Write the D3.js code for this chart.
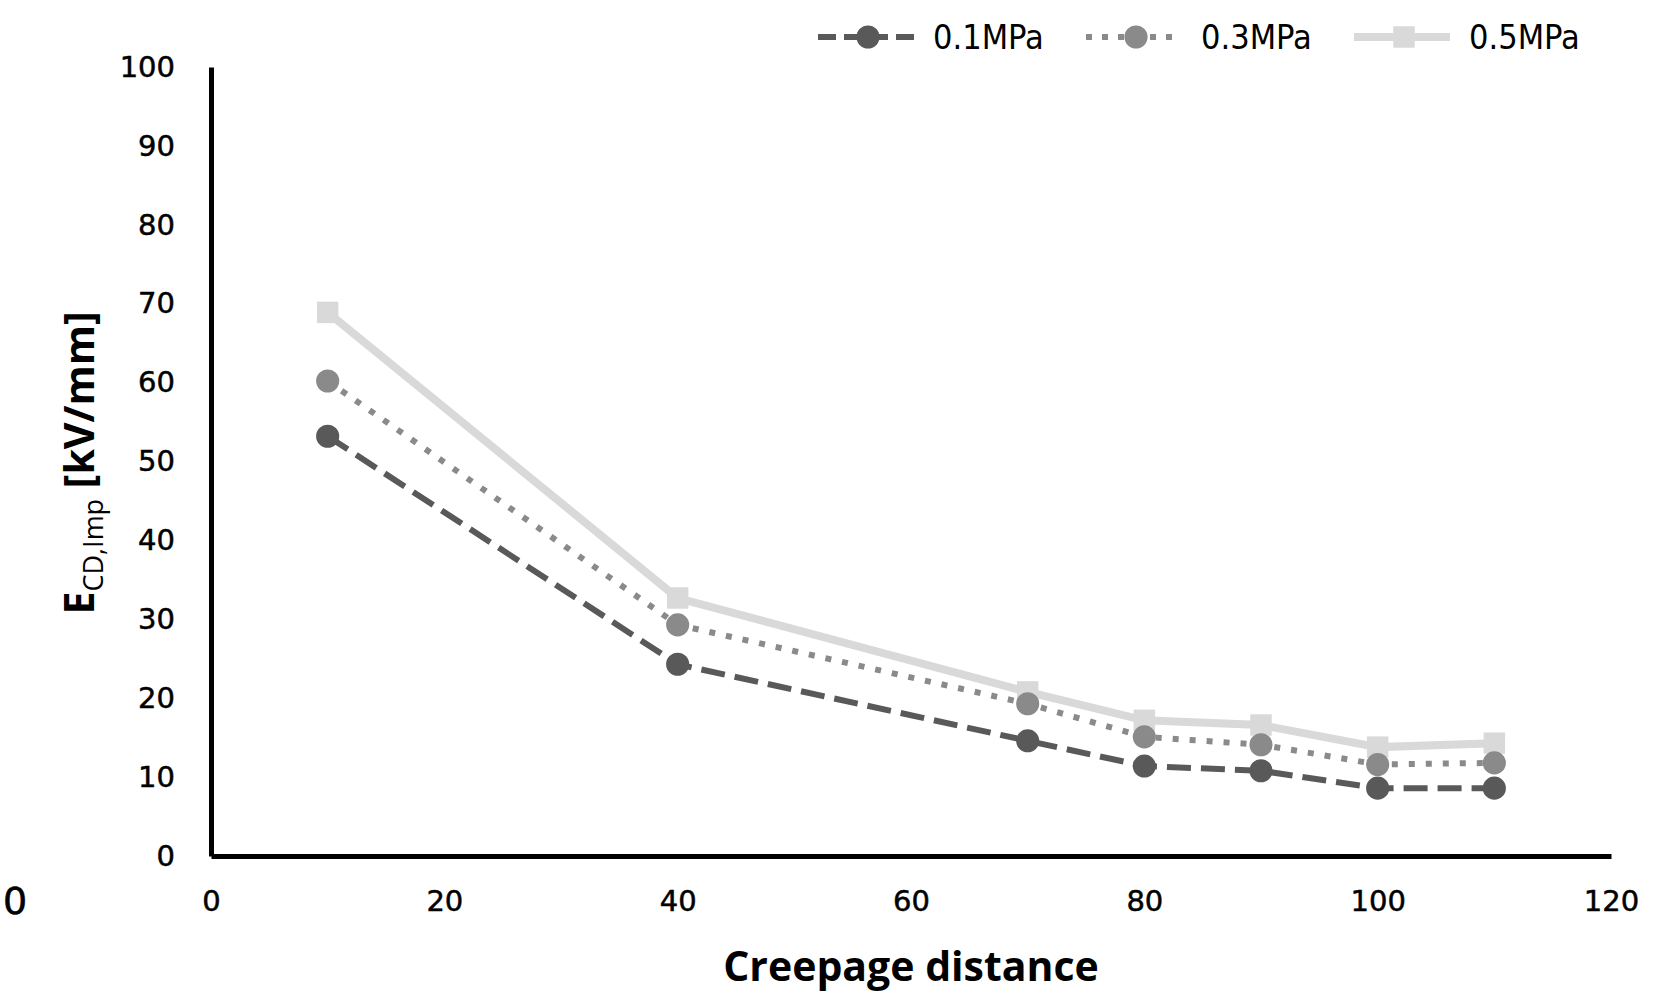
<!DOCTYPE html>
<html>
<head>
<meta charset="utf-8">
<script src="https://cdn.jsdelivr.net/npm/d3@7"></script>
<style>
  body { margin: 0; background: #fff; }
  svg { display: block; }
</style>
</head>
<body>
<div id="chart"></div>
<script>
// data
var distances = [10, 40, 70, 80, 90, 100, 110];
var seriesNames = ["0.1MPa", "0.3MPa", "0.5MPa"];
var values01 = [53.2, 24.3, 14.6, 11.4, 10.8, 8.6, 8.6];
var values03 = [60.2, 29.3, 19.3, 15.1, 14.1, 11.6, 11.8];
var values05 = [68.9, 32.7, 20.8, 17.2, 16.6, 13.8, 14.3];
var xTicks = [0, 20, 40, 60, 80, 100, 120];
var yTicks = [0, 10, 20, 30, 40, 50, 60, 70, 80, 90, 100];

var width = 1657, height = 1007;

var svg = d3.select("#chart")
  .append("svg")
  .attr("width", width)
  .attr("height", height);

var x = d3.scaleLinear().domain([0, 120]).range([211, 1611]);
var y = d3.scaleLinear().domain([0, 100]).range([856, 67]);

// styles per series
var styles = [
  { color: "#595959", width: 6, dash: "24,10", marker: "circle" },
  { color: "#8a8a8a", width: 6, dash: "6,11", marker: "circle" },
  { color: "#d9d9d9", width: 8, dash: null, marker: "square" }
];

var series = [values01, values03, values05].map(function(v, i) {
  return { name: seriesNames[i], style: styles[i], points: distances.map(function(d, j) { return { x: d, y: v[j] }; }) };
});

// axes
var xAxis = d3.axisBottom(x).tickValues(xTicks).tickSize(0).tickSizeOuter(0).tickPadding(34);
var yAxis = d3.axisLeft(y).tickValues(yTicks).tickSize(0).tickSizeOuter(0).tickPadding(36);

var gx = svg.append("g")
  .attr("transform", "translate(0," + y(0) + ")")
  .call(xAxis);
var gy = svg.append("g")
  .attr("transform", "translate(" + x(0) + ",0)")
  .call(yAxis);

[gx, gy].forEach(function(g) {
  g.select(".domain").attr("stroke", "#000").attr("stroke-width", 5);
  g.selectAll("text")
    .attr("fill", "#000")
    .attr("stroke", "#000")
    .attr("stroke-width", 0.5)
    .style("font-family", "DejaVu Sans")
    .style("font-size", "29px");
});

// lines and markers
var line = d3.line()
  .x(function(d) { return x(d.x); })
  .y(function(d) { return y(d.y); });

var markerSize = function(s) { return s.style.marker === "square" ? 460 : 420; };
var markerType = function(s) { return s.style.marker === "square" ? d3.symbolSquare : d3.symbolCircle; };

// draw light series first so darker ones sit on top
series.slice().reverse().forEach(function(s) {
  svg.append("path")
    .datum(s.points)
    .attr("fill", "none")
    .attr("stroke", s.style.color)
    .attr("stroke-width", s.style.width)
    .attr("stroke-dasharray", s.style.dash)
    .attr("d", line);

  svg.append("g").selectAll("path")
    .data(s.points)
    .enter()
    .append("path")
    .attr("transform", function(d) { return "translate(" + x(d.x) + "," + y(d.y) + ")"; })
    .attr("d", d3.symbol().type(markerType(s)).size(markerSize(s)))
    .attr("fill", s.style.color);
});

// axis titles
svg.append("text")
  .attr("x", 911)
  .attr("y", 981)
  .attr("text-anchor", "middle")
  .style("font-family", "Open Sans")
  .style("font-weight", 700)
  .style("font-size", "41px")
  .text("Creepage distance");

var yTitle = svg.append("text")
  .attr("transform", "translate(94,463) rotate(-90)")
  .attr("text-anchor", "middle")
  .style("font-family", "Open Sans")
  .style("font-weight", 700)
  .style("font-size", "41px");
yTitle.append("tspan").text("E");
yTitle.append("tspan")
  .attr("dy", 9)
  .style("font-weight", 400)
  .style("font-size", "27px")
  .text("CD,Imp");
yTitle.append("tspan")
  .attr("dy", -9)
  .text(" [kV/mm]");

// stray label at the left edge
svg.append("text")
  .attr("x", 15)
  .attr("y", 914)
  .attr("text-anchor", "middle")
  .attr("stroke", "#000")
  .attr("stroke-width", 0.6)
  .style("font-family", "DejaVu Sans")
  .style("font-size", "38px")
  .text("0");

// legend
var legendX = [818, 1086, 1354];
var legend = svg.append("g");
series.forEach(function(s, i) {
  var g = legend.append("g").attr("transform", "translate(" + legendX[i] + ",37)");
  g.append("line")
    .attr("x1", 0).attr("x2", 96)
    .attr("y1", 0).attr("y2", 0)
    .attr("stroke", s.style.color)
    .attr("stroke-width", s.style.width)
    .attr("stroke-dasharray", s.style.dash ? (i === 0 ? "18,8" : "6,10") : null);
  g.append("path")
    .attr("transform", "translate(50,0)")
    .attr("d", d3.symbol().type(markerType(s)).size(markerSize(s)))
    .attr("fill", s.style.color);
  g.append("text")
    .attr("x", 115)
    .attr("y", 12)
    .style("font-family", "DejaVu Sans Condensed")
    .style("font-size", "34px")
    .text(s.name);
});
</script>
</body>
</html>
